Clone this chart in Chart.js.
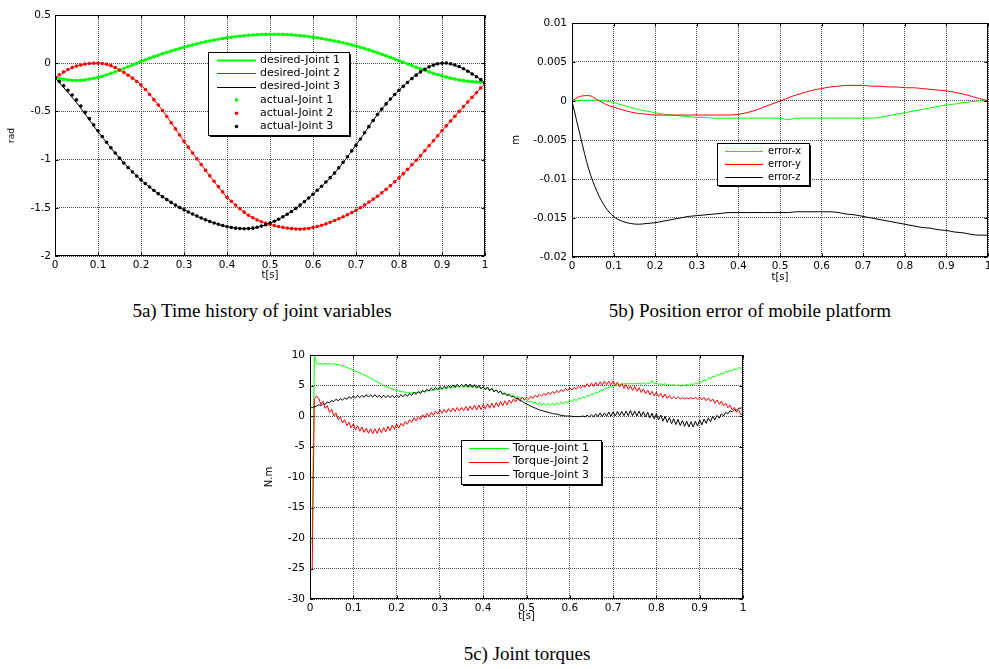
<!DOCTYPE html>
<html>
<head>
<meta charset="utf-8">
<script src="https://cdn.jsdelivr.net/npm/chart.js@4/dist/chart.umd.min.js"></script>
<style>
html, body { margin: 0; padding: 0; overflow: hidden; background: #fff; }
body { width: 989px; height: 669px; position: relative; }
canvas { position: absolute; }
.cap { position: absolute; width: 500px; text-align: center; font: 19px "Liberation Serif", serif; line-height: 20px; color: #000; }
</style>
</head>
<body>
<canvas id="chartA" width="495" height="285" style="left:0;top:0"></canvas>
<canvas id="chartB" width="500" height="285" style="left:500px;top:0"></canvas>
<canvas id="chartC" width="500" height="285" style="left:250px;top:340px"></canvas>
<div class="cap" style="left:12px;top:301px">5a) Time history of joint variables</div>
<div class="cap" style="left:500px;top:301px">5b) Position error of mobile platform</div>
<div class="cap" style="left:277px;top:644px">5c) Joint torques</div>
<script>
// ---- shared ticks ----
const xTicks = [0, 0.1, 0.2, 0.3, 0.4, 0.5, 0.6, 0.7, 0.8, 0.9, 1];
const yTicksA = [-2, -1.5, -1, -0.5, 0, 0.5];
const yTicksB = [-0.02, -0.015, -0.01, -0.005, 0, 0.005, 0.01];
const yTicksC = [-30, -25, -20, -15, -10, -5, 0, 5, 10];

// ---- 5a: joint variables (rad) ----
const tA = [0,0.01,0.02,0.03,0.04,0.05,0.06,0.07,0.08,0.09,
  0.1,0.11,0.12,0.13,0.14,0.15,0.16,0.17,0.18,0.19,
  0.2,0.21,0.22,0.23,0.24,0.25,0.26,0.27,0.28,0.29,
  0.3,0.31,0.32,0.33,0.34,0.35,0.36,0.37,0.38,0.39,
  0.4,0.41,0.42,0.43,0.44,0.45,0.46,0.47,0.48,0.49,
  0.5,0.51,0.52,0.53,0.54,0.55,0.56,0.57,0.58,0.59,
  0.6,0.61,0.62,0.63,0.64,0.65,0.66,0.67,0.68,0.69,
  0.7,0.71,0.72,0.73,0.74,0.75,0.76,0.77,0.78,0.79,
  0.8,0.81,0.82,0.83,0.84,0.85,0.86,0.87,0.88,0.89,
  0.9,0.91,0.92,0.93,0.94,0.95,0.96,0.97,0.98,0.99,1];
const actualJ1 = [-0.15,-0.16,-0.17,-0.175,-0.18,-0.18,-0.178,-0.172,-0.165,-0.157,
  -0.148,-0.135,-0.12,-0.105,-0.09,-0.072,-0.055,-0.037,-0.018,0,
  0.018,0.035,0.052,0.068,0.083,0.098,0.112,0.126,0.14,0.153,
  0.166,0.178,0.19,0.201,0.212,0.222,0.231,0.24,0.248,0.256,
  0.263,0.269,0.275,0.28,0.285,0.289,0.293,0.296,0.298,0.3,
  0.301,0.301,0.3,0.299,0.297,0.294,0.29,0.286,0.281,0.276,
  0.27,0.263,0.256,0.248,0.24,0.231,0.222,0.212,0.201,0.19,
  0.178,0.165,0.152,0.138,0.123,0.108,0.092,0.076,0.06,0.043,
  0.026,0.009,-0.008,-0.025,-0.042,-0.058,-0.074,-0.09,-0.105,-0.119,
  -0.132,-0.144,-0.155,-0.165,-0.174,-0.181,-0.187,-0.192,-0.196,-0.198,-0.2];
const actualJ2 = [-0.15,-0.12,-0.09,-0.065,-0.045,-0.03,-0.018,-0.009,-0.003,0,
  0,-0.004,-0.012,-0.025,-0.045,-0.07,-0.095,-0.125,-0.155,-0.19,
  -0.225,-0.273,-0.325,-0.378,-0.433,-0.49,-0.553,-0.617,-0.681,-0.745,
  -0.81,-0.871,-0.932,-0.992,-1.052,-1.11,-1.168,-1.224,-1.28,-1.335,
  -1.39,-1.432,-1.472,-1.51,-1.545,-1.578,-1.603,-1.626,-1.645,-1.66,
  -1.672,-1.684,-1.694,-1.703,-1.71,-1.716,-1.72,-1.722,-1.72,-1.714,
  -1.705,-1.694,-1.681,-1.667,-1.65,-1.632,-1.613,-1.593,-1.572,-1.55,
  -1.527,-1.499,-1.47,-1.44,-1.41,-1.38,-1.344,-1.307,-1.27,-1.23,
  -1.19,-1.146,-1.1,-1.054,-1.007,-0.96,-0.908,-0.856,-0.804,-0.752,
  -0.7,-0.65,-0.6,-0.55,-0.5,-0.45,-0.402,-0.354,-0.306,-0.258,-0.21];
const actualJ3 = [-0.15,-0.19,-0.235,-0.28,-0.33,-0.38,-0.445,-0.51,-0.575,-0.64,
  -0.7,-0.76,-0.82,-0.877,-0.932,-0.985,-1.035,-1.083,-1.128,-1.17,
  -1.21,-1.248,-1.285,-1.32,-1.353,-1.385,-1.415,-1.444,-1.472,-1.497,
  -1.52,-1.543,-1.565,-1.586,-1.606,-1.625,-1.642,-1.657,-1.671,-1.684,
  -1.695,-1.704,-1.711,-1.716,-1.718,-1.716,-1.711,-1.702,-1.69,-1.675,
  -1.658,-1.64,-1.618,-1.594,-1.567,-1.538,-1.506,-1.472,-1.436,-1.398,
  -1.36,-1.318,-1.276,-1.232,-1.187,-1.14,-1.085,-1.028,-0.97,-0.91,
  -0.85,-0.786,-0.722,-0.658,-0.594,-0.532,-0.476,-0.422,-0.372,-0.325,
  -0.28,-0.24,-0.2,-0.16,-0.124,-0.09,-0.062,-0.038,-0.02,-0.007,
  0,0.002,-0.006,-0.018,-0.035,-0.058,-0.084,-0.112,-0.141,-0.17,-0.2];
const tDesired = [0,0.05,0.1,0.15,0.2,0.25,0.3,0.35,0.4,0.45,0.5,0.55,0.6,0.65,0.7,0.75,0.8,0.85,0.9,0.95,1];
const desiredJ1 = [-0.15,-0.18,-0.148,-0.072,0.018,0.098,0.166,0.222,0.263,0.289,0.301,0.294,0.27,0.231,0.178,0.108,0.026,-0.058,-0.132,-0.181,-0.2];
const desiredJ2 = [-0.15,-0.03,0,-0.07,-0.225,-0.49,-0.81,-1.11,-1.39,-1.578,-1.672,-1.716,-1.705,-1.632,-1.527,-1.38,-1.19,-0.96,-0.7,-0.45,-0.21];
const desiredJ3 = [-0.15,-0.41,-0.71,-0.985,-1.21,-1.385,-1.52,-1.625,-1.695,-1.716,-1.658,-1.538,-1.36,-1.14,-0.85,-0.532,-0.28,-0.09,0,-0.058,-0.2];

// ---- 5b: position error (m) ----
const tB = [0,0.02,0.04,0.06,0.08,0.1,0.12,0.14,0.16,0.18,
  0.2,0.22,0.24,0.26,0.28,0.3,0.32,0.34,0.36,0.38,
  0.4,0.42,0.44,0.46,0.48,0.5,0.52,0.54,0.56,0.58,
  0.6,0.62,0.64,0.66,0.68,0.7,0.72,0.74,0.76,0.78,
  0.8,0.82,0.84,0.86,0.88,0.9,0.92,0.94,0.96,0.98,1];
const errorX = [0,0.0001,0.0001,0.0001,0,-0.0002,-0.0005,-0.0008,-0.0011,-0.0013,
  -0.0015,-0.0017,-0.0018,-0.0019,-0.002,-0.0021,-0.0021,-0.0022,-0.0022,-0.0022,
  -0.0022,-0.0022,-0.0022,-0.0022,-0.0022,-0.0022,-0.0024,-0.0022,-0.0022,-0.0022,
  -0.0022,-0.0022,-0.0022,-0.0022,-0.0022,-0.0022,-0.0022,-0.0021,-0.0019,-0.0017,
  -0.0015,-0.0013,-0.0011,-0.0009,-0.0007,-0.0005,-0.0004,-0.0002,-0.0001,0,0];
const errorY = [0,0.0006,0.0007,0.0002,-0.0004,-0.0008,-0.0011,-0.0014,-0.0016,-0.0017,
  -0.0018,-0.0018,-0.0018,-0.0018,-0.0018,-0.0018,-0.0018,-0.0018,-0.0018,-0.0018,
  -0.0017,-0.0015,-0.0012,-0.0008,-0.0004,0,0.0004,0.0008,0.0011,0.0014,
  0.0016,0.0018,0.0019,0.002,0.002,0.002,0.0019,0.0019,0.0018,0.0018,
  0.0017,0.0017,0.0016,0.0015,0.0014,0.0013,0.0011,0.0009,0.0006,0.0003,0];
const errorZ = [0,-0.0045,-0.0087,-0.0116,-0.0136,-0.0148,-0.0154,-0.0157,-0.0158,-0.0157,
  -0.0156,-0.0154,-0.0152,-0.015,-0.0148,-0.0147,-0.0146,-0.0145,-0.0144,-0.0143,
  -0.0143,-0.0143,-0.0143,-0.0143,-0.0143,-0.0143,-0.0143,-0.0142,-0.0142,-0.0142,
  -0.0142,-0.0142,-0.0143,-0.0145,-0.0146,-0.0148,-0.015,-0.0152,-0.0154,-0.0156,
  -0.0158,-0.016,-0.0162,-0.0163,-0.0165,-0.0166,-0.0168,-0.0169,-0.0171,-0.0172,-0.0172];

// ---- 5c: joint torques (N.m) ----
const tC = [0,0.005,0.01,0.015,0.02,0.025,0.03,0.035,0.04,0.045,0.05,0.055,0.06,0.065,0.07,0.075,0.08,0.085,0.09,0.095,
  0.1,0.105,0.11,0.115,0.12,0.125,0.13,0.135,0.14,0.145,0.15,0.155,0.16,0.165,0.17,0.175,0.18,0.185,0.19,0.195,
  0.2,0.205,0.21,0.215,0.22,0.225,0.23,0.235,0.24,0.245,0.25,0.255,0.26,0.265,0.27,0.275,0.28,0.285,0.29,0.295,
  0.3,0.305,0.31,0.315,0.32,0.325,0.33,0.335,0.34,0.345,0.35,0.355,0.36,0.365,0.37,0.375,0.38,0.385,0.39,0.395,
  0.4,0.405,0.41,0.415,0.42,0.425,0.43,0.435,0.44,0.445,0.45,0.455,0.46,0.465,0.47,0.475,0.48,0.485,0.49,0.495,
  0.5,0.505,0.51,0.515,0.52,0.525,0.53,0.535,0.54,0.545,0.55,0.555,0.56,0.565,0.57,0.575,0.58,0.585,0.59,0.595,
  0.6,0.605,0.61,0.615,0.62,0.625,0.63,0.635,0.64,0.645,0.65,0.655,0.66,0.665,0.67,0.675,0.68,0.685,0.69,0.695,
  0.7,0.705,0.71,0.715,0.72,0.725,0.73,0.735,0.74,0.745,0.75,0.755,0.76,0.765,0.77,0.775,0.78,0.785,0.79,0.795,
  0.8,0.805,0.81,0.815,0.82,0.825,0.83,0.835,0.84,0.845,0.85,0.855,0.86,0.865,0.87,0.875,0.88,0.885,0.89,0.895,
  0.9,0.905,0.91,0.915,0.92,0.925,0.93,0.935,0.94,0.945,0.95,0.955,0.96,0.965,0.97,0.975,0.98,0.985,0.99,0.995,1];
const torqueJ1 = [-20.8,-20.8,10,8.6,8.5,8.6,8.5,8.6,8.5,8.6,8.5,8.6,8.4,8.45,8.3,8.25,8.1,8,7.8,7.7,
  7.5,7.35,7.2,7.05,6.9,6.75,6.6,6.4,6.2,6,5.8,5.6,5.4,5.2,5,4.85,4.7,4.55,4.4,4.3,
  4.2,4.1,4,3.95,3.9,3.85,3.8,3.8,3.8,3.85,3.9,3.95,4,4.05,4.1,4.15,4.2,4.25,4.3,4.35,
  4.5,4.35,4.6,4.45,4.7,4.55,4.8,4.65,4.9,4.7,4.9,4.7,4.9,4.7,4.9,4.65,4.8,4.6,4.8,4.55,
  4.7,4.4,4.5,4.25,4.4,4.1,4.2,3.9,4,3.7,3.8,3.5,3.6,3.3,3.4,3.1,3.2,2.9,3.05,2.6,
  2.75,2.3,2.45,2.05,2.3,1.85,2.2,1.75,2.1,1.7,2.1,1.7,2.1,1.75,2.2,1.85,2.3,1.95,2.4,2.1,
  2.6,2.3,2.8,2.5,2.95,2.75,3.15,3,3.4,3.3,3.6,3.55,3.9,3.85,4.1,4.25,4.4,4.55,4.7,4.8,
  4.9,5,5.1,5.15,5.2,5.25,5.3,5.3,5.3,5.3,5.3,5.3,5.4,5.2,5.4,5.2,5.4,5.3,5.8,5.3,
  5.4,5.15,5.3,5.1,5.3,5.05,5.2,5,5.2,4.95,5.1,4.9,5.1,4.95,5.2,5,5.3,5.1,5.45,5.25,
  5.65,5.5,5.95,5.8,6.25,6.1,6.55,6.4,6.85,6.65,7.05,6.9,7.35,7.15,7.55,7.35,7.75,7.55,7.95,7.8,8];
const torqueJ2 = [-25.2,-25.2,2.8,3.3,2.9,1.9,2.4,1.25,1.7,0.6,1.1,0,0.5,-0.6,-0.1,-1.15,-0.6,-1.6,-1,-1.95,
  -1.3,-2.25,-1.6,-2.5,-1.8,-2.7,-2,-2.85,-2.1,-2.9,-2.1,-2.85,-2,-2.75,-1.9,-2.6,-1.7,-2.4,-1.5,-2.2,
  -1.3,-2,-1.2,-1.65,-0.9,-1.35,-0.6,-1.05,-0.3,-0.8,-0.1,-0.55,0.2,-0.3,0.4,-0.1,0.6,0.1,0.8,0.3,
  1,0.45,1.1,0.55,1.2,0.65,1.3,0.75,1.4,0.8,1.4,0.85,1.55,0.9,1.65,1,1.8,1,1.8,1.05,
  1.9,1.15,2,1.25,2.1,1.35,2.2,1.5,2.4,1.65,2.5,1.8,2.6,2.1,2.8,2.3,3,2.5,3.1,2.7,
  3.1,2.75,3.2,2.9,3.4,3.1,3.6,3.25,3.7,3.4,3.9,3.55,4,3.7,4.2,3.85,4.3,4,4.5,4.15,
  4.6,4.25,4.7,4.4,4.9,4.55,5,4.7,5.3,4.75,5.4,4.85,5.5,4.95,5.6,5.05,5.7,5.1,5.7,5.1,
  5.75,4.95,5.55,4.75,5.35,4.55,5.15,4.35,4.95,4.2,4.85,4.05,4.65,3.85,4.45,3.65,4.25,3.45,4.05,3.3,
  3.9,3.2,3.7,3.05,3.6,2.9,3.35,2.8,3.2,2.8,3.15,2.8,3,2.8,3,2.8,3,2.8,3.05,2.75,
  3.1,2.65,3.05,2.5,2.95,2.35,2.8,2.1,2.6,1.9,2.4,1.65,2.1,1.35,1.8,1,1.4,0.6,1,0.2,0.3];
const torqueJ3 = [1.3,1.4,1.5,1.6,1.85,1.65,2.05,1.9,2.35,2.15,2.55,2.35,2.75,2.5,2.85,2.6,2.95,2.75,3.2,2.85,
  3.3,2.95,3.4,3,3.4,3.05,3.5,3.1,3.5,3.1,3.5,3.05,3.4,3,3.4,3,3.4,3,3.4,3,
  3.4,3.05,3.5,3.15,3.6,3.25,3.7,3.4,3.9,3.55,4,3.7,4.2,3.9,4.4,4.1,4.6,4.25,4.7,4.35,
  4.8,4.45,4.9,4.55,5,4.65,5.1,4.75,5.2,4.8,5.2,4.8,5.25,4.75,5.25,4.7,5.15,4.6,5.05,4.45,
  4.85,4.3,4.75,4.15,4.55,3.95,4.3,3.8,4.1,3.55,3.75,3.35,3.5,3.15,3.2,2.85,2.9,2.5,2.45,2.15,
  2,1.8,1.6,1.45,1.3,1.15,1,0.9,0.8,0.7,0.6,0.5,0.4,0.35,0.3,0.2,0.1,0.05,0,0,
  0,-0.05,-0.1,-0.1,-0.1,-0.1,0,-0.15,0.15,-0.15,0.2,-0.15,0.35,-0.1,0.5,-0.1,0.5,-0.05,0.65,-0.05,
  0.65,0,0.75,0.05,0.75,0.05,0.8,0.05,0.9,0.05,0.8,0,0.8,-0.05,0.7,-0.15,0.6,-0.3,0.45,-0.5,
  0.35,-0.65,0.15,-0.85,-0.05,-1.05,-0.25,-1.25,-0.45,-1.4,-0.55,-1.55,-0.75,-1.7,-0.85,-1.8,-0.95,-1.8,-0.85,-1.65,
  -0.65,-1.45,-0.5,-1.2,-0.3,-0.95,-0.05,-0.65,0.1,-0.35,0.35,0,0.6,0.35,0.85,0.65,1,0.95,1.25,1.3,1.4];

const GREEN = '#00ff00';
const RED = '#ff0000';
const BLACK = '#000000';

function pts(ts, vs) {
    return ts.map((t, i) => ({ x: t, y: vs[i] }));
}

// MATLAB-like box, inward ticks and boxed legend
const matlabFrame = {
    id: 'matlabFrame',
    afterDraw(chart, args, opts) {
        const { ctx, chartArea: a, scales } = chart;
        ctx.save();
        ctx.strokeStyle = '#000';
        ctx.lineWidth = 1;
        const L = Math.round(a.left) + 0.5, R = Math.round(a.right) - 0.5;
        const T = Math.round(a.top) + 0.5, B = Math.round(a.bottom) - 0.5;
        ctx.strokeRect(L, T, R - L, B - T);
        ctx.beginPath();
        scales.x.ticks.forEach(t => {
            const px = Math.round(scales.x.getPixelForValue(t.value)) + 0.5;
            ctx.moveTo(px, T); ctx.lineTo(px, T + 3);
            ctx.moveTo(px, B); ctx.lineTo(px, B - 3);
        });
        scales.y.ticks.forEach(t => {
            const py = Math.round(scales.y.getPixelForValue(t.value)) + 0.5;
            ctx.moveTo(L, py); ctx.lineTo(L + 3, py);
            ctx.moveTo(R, py); ctx.lineTo(R - 3, py);
        });
        ctx.stroke();

        const lg = opts.legend;
        if (lg) {
            ctx.fillStyle = '#fff';
            ctx.fillRect(lg.x, lg.y, lg.w, lg.h);
            ctx.strokeRect(lg.x + 0.5, lg.y + 0.5, lg.w, lg.h);
            ctx.fillStyle = '#000';
            ctx.fillRect(lg.x + lg.w + 1, lg.y + 2, 1, lg.h);
            ctx.fillRect(lg.x + 2, lg.y + lg.h + 1, lg.w, 1);
            ctx.font = lg.font;
            ctx.textBaseline = 'middle';
            chart.data.datasets.forEach((ds, i) => {
                const yy = lg.rowY + i * lg.rowH;
                if (ds.showLine === false) {
                    ctx.fillStyle = ds.pointBackgroundColor;
                    ctx.beginPath();
                    ctx.arc((lg.x1 + lg.x2) / 2, yy, 1.8, 0, 2 * Math.PI);
                    ctx.fill();
                } else {
                    ctx.strokeStyle = ds.borderColor;
                    ctx.lineWidth = ds.borderWidth;
                    ctx.beginPath();
                    ctx.moveTo(lg.x1, Math.round(yy) + 0.5);
                    ctx.lineTo(lg.x2, Math.round(yy) + 0.5);
                    ctx.stroke();
                }
                ctx.fillStyle = '#000';
                ctx.fillText(ds.label, lg.textX, yy);
            });
        }
        ctx.restore();
    }
};

function axisOptions(o) {
    const font = { family: 'DejaVu Sans', size: 10.5 };
    return {
        x: {
            type: 'linear', min: 0, max: 1,
            afterBuildTicks: s => { s.ticks = xTicks.map(v => ({ value: v })); },
            afterFit: s => { s.height = o.xh; },
            grid: { color: '#505050', lineWidth: 1, drawTicks: false },
            border: { display: false, dash: [1, 1] },
            ticks: { font: font, color: '#000', padding: 3, maxRotation: 0, autoSkip: false, callback: v => String(v) },
            title: { display: true, text: 't[s]', font: { family: 'DejaVu Sans', size: 10 }, color: '#000', padding: { top: 0, bottom: o.xTitlePad } }
        },
        y: {
            type: 'linear', min: o.yTicks[0], max: o.yTicks[o.yTicks.length - 1],
            afterBuildTicks: s => { s.ticks = o.yTicks.map(v => ({ value: v })); },
            afterFit: s => { s.width = o.yw; },
            grid: { color: '#505050', lineWidth: 1, drawTicks: false },
            border: { display: false, dash: [1, 1] },
            ticks: { font: font, color: '#000', padding: o.yTickPad, autoSkip: false, callback: v => String(v) },
            title: { display: true, text: o.yTitle, font: { family: 'DejaVu Sans', size: o.yTitleSize }, color: '#000', padding: { top: o.yTitlePad, bottom: 0 } }
        }
    };
}

function makeChart(id, datasets, o) {
    return new Chart(document.getElementById(id), {
        type: 'line',
        data: { datasets: datasets },
        options: {
            responsive: false,
            animation: false,
            devicePixelRatio: 1,
            layout: { padding: o.pad },
            plugins: {
                legend: { display: false },
                tooltip: { enabled: false },
                matlabFrame: { legend: o.legend }
            },
            scales: axisOptions(o)
        },
        plugins: [matlabFrame]
    });
}

function lineSet(label, ts, vs, color, width, order, smooth) {
    return {
        label: label, data: pts(ts, vs), borderColor: color, backgroundColor: color,
        borderWidth: width, pointRadius: 0, fill: false, order: order,
        tension: 0, cubicInterpolationMode: smooth ? 'monotone' : 'default'
    };
}

function dotSet(label, ts, vs, color, order) {
    return {
        label: label, data: pts(ts, vs), showLine: false, borderColor: color,
        pointBackgroundColor: color, pointBorderWidth: 0, pointRadius: 1.8, order: order
    };
}

// 5a
makeChart('chartA', [
    lineSet('desired-Joint 1', tDesired, desiredJ1, GREEN, 2, 6, true),
    lineSet('desired-Joint 2', tDesired, desiredJ2, RED, 1, 5, true),
    lineSet('desired-Joint 3', tDesired, desiredJ3, BLACK, 1, 4, true),
    dotSet('actual-Joint 1', tA, actualJ1, GREEN, 3),
    dotSet('actual-Joint 2', tA, actualJ2, RED, 2),
    dotSet('actual-Joint 3', tA, actualJ3, BLACK, 1)
], {
    pad: { left: 0, top: 15, right: 10, bottom: 0 }, yw: 55, xh: 29,
    yTicks: yTicksA, yTickPad: 4, yTitle: 'rad', yTitleSize: 9, yTitlePad: 6, xTitlePad: 4,
    legend: { x: 208, y: 52, w: 141, h: 83, x1: 217, x2: 256, textX: 260, rowY: 60, rowH: 13.3, font: '11px "DejaVu Sans"' }
});

// 5b
makeChart('chartB', [
    lineSet('error-x', tB, errorX, GREEN, 1, 3, true),
    lineSet('error-y', tB, errorY, RED, 1, 2, true),
    lineSet('error-z', tB, errorZ, BLACK, 1, 1, true)
], {
    pad: { left: 0, top: 23, right: 12, bottom: 0 }, yw: 72, xh: 28,
    yTicks: yTicksB, yTickPad: 5, yTitle: 'm', yTitleSize: 10, yTitlePad: 10, xTitlePad: 2,
    legend: { x: 217, y: 143, w: 92, h: 42, x1: 225, x2: 263, textX: 268, rowY: 151, rowH: 13, font: '10px "DejaVu Sans"' }
});

// 5c
makeChart('chartC', [
    lineSet('Torque-Joint 1', tC, torqueJ1, GREEN, 1, 3, false),
    lineSet('Torque-Joint 2', tC, torqueJ2, RED, 1, 2, false),
    lineSet('Torque-Joint 3', tC, torqueJ3, BLACK, 1, 1, false)
], {
    pad: { left: 0, top: 15, right: 7, bottom: 0 }, yw: 60, xh: 26,
    yTicks: yTicksC, yTickPad: 5, yTitle: 'N.m', yTitleSize: 10, yTitlePad: 13, xTitlePad: 3,
    legend: { x: 211, y: 100, w: 140, h: 44, x1: 219, x2: 259, textX: 263, rowY: 108.3, rowH: 13.3, font: '11px "DejaVu Sans"' }
});
</script>
</body>
</html>
